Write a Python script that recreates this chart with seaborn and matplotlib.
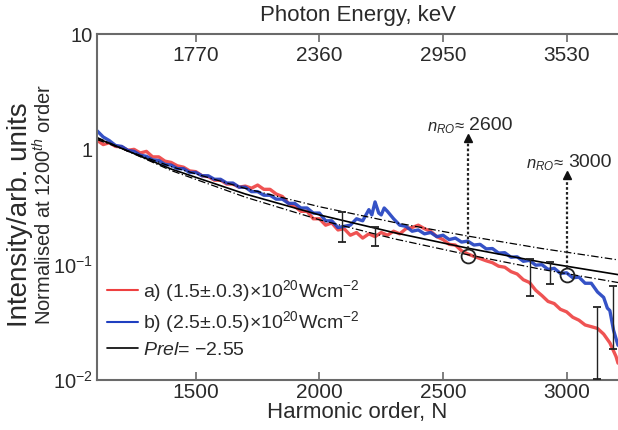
import numpy as np
import pandas as pd
import matplotlib
matplotlib.use("Agg")
import matplotlib.pyplot as plt
import seaborn as sns
from matplotlib.lines import Line2D

# ---------------- data ----------------
harm_a = [1100, 1125, 1150, 1175, 1200, 1225, 1250, 1275, 1300, 1325, 1350, 1375,
          1400, 1425, 1450, 1475, 1500, 1525, 1550, 1575, 1600, 1625, 1650, 1675,
          1700, 1725, 1750, 1775, 1800, 1825, 1850, 1875, 1900, 1925, 1950, 1975,
          2000, 2025, 2050, 2075, 2100, 2125, 2150, 2175, 2200, 2225, 2250, 2275,
          2300, 2325, 2350, 2375, 2400, 2425, 2450, 2475, 2500, 2525, 2550, 2575,
          2600, 2625, 2650, 2675, 2700, 2725, 2750, 2775, 2800, 2825, 2850, 2875,
          2900, 2925, 2950, 2975, 3000, 3025, 3050, 3075, 3100, 3125, 3150, 3175,
          3200, 3208]
int_a = [1.20, 1.10, 1.14, 1.06, 1.05, 0.98, 1.00, 0.93, 0.96, 0.86, 0.86, 0.79,
         0.77, 0.72, 0.70, 0.65, 0.64, 0.59, 0.58, 0.54, 0.54, 0.50, 0.50, 0.47,
         0.48, 0.46, 0.49, 0.45, 0.45, 0.41, 0.39, 0.34, 0.32, 0.29, 0.29, 0.25,
         0.25, 0.22, 0.23, 0.20, 0.205, 0.18, 0.19, 0.17, 0.185, 0.175, 0.19, 0.18,
         0.195, 0.185, 0.205, 0.21, 0.22, 0.205, 0.195, 0.175, 0.165, 0.15, 0.148, 0.132,
         0.124, 0.118, 0.113, 0.108, 0.104, 0.097, 0.095, 0.087, 0.083, 0.074, 0.070, 0.060,
         0.054, 0.048, 0.046, 0.041, 0.039, 0.035, 0.033, 0.030, 0.029, 0.028, 0.025, 0.021,
         0.016, 0.014]

harm_b = [1100, 1125, 1150, 1175, 1200, 1225, 1250, 1275, 1300, 1325, 1350, 1375,
          1400, 1425, 1450, 1475, 1500, 1525, 1550, 1575, 1600, 1625, 1650, 1675,
          1700, 1725, 1750, 1775, 1800, 1825, 1850, 1875, 1900, 1925, 1950, 1975,
          2000, 2025, 2050, 2075, 2100, 2125, 2150, 2175, 2200, 2212, 2225, 2240,
          2250, 2262, 2275, 2300, 2325, 2350, 2375, 2400, 2425, 2450, 2475, 2500,
          2525, 2550, 2575, 2600, 2625, 2650, 2675, 2700, 2725, 2750, 2775, 2800,
          2825, 2850, 2875, 2900, 2925, 2950, 2975, 3000, 3025, 3050, 3075, 3100,
          3125, 3150, 3165, 3175, 3190, 3208]
int_b = [1.45, 1.28, 1.19, 1.08, 1.06, 0.98, 0.96, 0.89, 0.87, 0.81, 0.80, 0.74,
         0.73, 0.68, 0.68, 0.63, 0.63, 0.59, 0.59, 0.55, 0.55, 0.51, 0.51, 0.47,
         0.47, 0.43, 0.43, 0.40, 0.40, 0.37, 0.37, 0.34, 0.34, 0.31, 0.31, 0.28,
         0.28, 0.24, 0.24, 0.21, 0.215, 0.22, 0.25, 0.24, 0.30, 0.27, 0.35, 0.28,
         0.27, 0.31, 0.29, 0.25, 0.22, 0.215, 0.195, 0.20, 0.185, 0.19, 0.175, 0.18,
         0.165, 0.17, 0.157, 0.16, 0.148, 0.15, 0.137, 0.138, 0.126, 0.127, 0.116, 0.117,
         0.107, 0.109, 0.099, 0.100, 0.091, 0.093, 0.084, 0.085, 0.077, 0.078, 0.069, 0.069,
         0.058, 0.052, 0.042, 0.040, 0.027, 0.020]

fit_n = [1100, 1400, 1700, 2000, 2300, 2600, 2900, 3208]
fit_main = [1.25, 0.675, 0.41, 0.27, 0.19, 0.139, 0.105, 0.082]
fit_upper = [1.215, 0.708, 0.458, 0.318, 0.233, 0.177, 0.138, 0.110]
fit_lower = [1.27, 0.655, 0.385, 0.245, 0.168, 0.122, 0.091, 0.070]

err_a_n = [2224, 2850, 3125]
err_a_mid = [0.18, 0.078, 0.024]
err_a_lo = [0.144, 0.053, 0.0103]
err_a_hi = [0.211, 0.111, 0.0426]

err_b_n = [2090, 2932, 3187]
err_b_mid = [0.21, 0.085, 0.035]
err_b_lo = [0.156, 0.0675, 0.0184]
err_b_hi = [0.284, 0.1047, 0.0648]

ro_n = [2600, 3000]
ro_val = [0.12, 0.082]
ro_tip = [1.25, 0.60]
ro_labels = ["2600", "3000"]

bottom_ticks = [1500, 2000, 2500, 3000]
top_tick_labels = ["1770", "2360", "2950", "3530"]
y_ticks = [10, 1, 0.1, 0.01]
y_tick_labels = ["10", "1", "10$^{-1}$", "10$^{-2}$"]

label_a = "a) (1.5±.0.3)×10$^{20}$Wcm$^{-2}$"
label_b = "b) (2.5±.0.5)×10$^{20}$Wcm$^{-2}$"
label_fit = "$Prel$= −2.55"

# ---------------- style ----------------
sns.set_theme(style="white")
plt.rcParams["font.family"] = ["Liberation Sans", "DejaVu Sans"]
plt.rcParams["mathtext.fontset"] = "custom"
plt.rcParams["mathtext.rm"] = "Liberation Sans"
plt.rcParams["mathtext.it"] = "Liberation Sans:italic"
plt.rcParams["mathtext.bf"] = "Liberation Sans:bold"

TXT = "#2a2a2a"
SPN = "#6a6a6a"
RED = "#ee4040"
BLUE = "#1f3fc0"

fig = plt.figure(figsize=(6.18, 4.30), dpi=100)
W, H = 618, 430
ax = fig.add_axes([97 / W, (H - 380) / H, 1 - 97 / W, 346 / H])

df_a = pd.DataFrame({"N": harm_a, "I": int_a})
df_b = pd.DataFrame({"N": harm_b, "I": int_b})

sns.lineplot(data=df_a, x="N", y="I", ax=ax, color=RED, lw=2.4, alpha=0.9, sort=False)
sns.lineplot(data=df_b, x="N", y="I", ax=ax, color=BLUE, lw=2.4, alpha=0.9, sort=False)

sns.lineplot(x=fit_n, y=fit_upper, ax=ax, color="black", lw=0.9, ls=(0, (6, 2, 1, 2)))
sns.lineplot(x=fit_n, y=fit_lower, ax=ax, color="black", lw=0.9, ls=(0, (6, 2, 1, 2)))
sns.lineplot(x=fit_n, y=fit_main, ax=ax, color="black", lw=1.2)

for n_, mid, lo, hi, cc in [(err_a_n, err_a_mid, err_a_lo, err_a_hi, RED),
                            (err_b_n, err_b_mid, err_b_lo, err_b_hi, BLUE)]:
    mid = np.array(mid); lo = np.array(lo); hi = np.array(hi)
    eb = ax.errorbar(n_, mid, yerr=[mid - lo, hi - mid], fmt="none", ecolor="#222222",
                     elinewidth=1.0, capsize=3, capthick=1.3, zorder=5)
    for cap in eb[1]:
        cap.set_color(cc)

# rollover circles + arrows
ax.plot(ro_n, ro_val, ls="none", marker="o", ms=10, mfc="none", mec="#222222", mew=1.3, zorder=6)
for n_, v, tip, lab in zip(ro_n, ro_val, ro_tip, ro_labels):
    ax.plot([n_, n_], [v * 1.14, tip], color="#222222", lw=1.6, ls=(0, (1.2, 1.0)), zorder=6)
    ax.plot([n_], [tip], marker="^", ms=6, color="#111111", zorder=7)
    ax.text(n_ + 5, tip * 1.08, lab, fontsize=14, color=TXT, ha="left", va="bottom")
    ax.text(n_ - 12, tip * 1.04, "$n_{RO}$≈", fontsize=12, color=TXT, ha="right", va="bottom")

# axes
ax.set_yscale("log")
ax.set_xlim(1100, 3208)
ax.set_ylim(0.01, 10)
ax.set_xticks(bottom_ticks)
ax.set_xticklabels([str(t) for t in bottom_ticks])
ax.set_yticks(y_ticks)
ax.set_yticklabels(y_tick_labels)
ax.yaxis.set_minor_locator(matplotlib.ticker.NullLocator())
ax.tick_params(axis="both", which="major", direction="in", length=6, width=1.2,
               color=SPN, labelcolor=TXT, labelsize=15)
ax.tick_params(axis="x", pad=2)
ax.tick_params(axis="y", pad=3, labelsize=14.5)
for s in ["left", "bottom", "top"]:
    ax.spines[s].set_color(SPN)
    ax.spines[s].set_linewidth(1.5)
ax.spines["right"].set_visible(False)
ax.set_xlabel("Harmonic order, N", fontsize=16, color=TXT, labelpad=0)
ax.set_ylabel("")

ax2 = ax.twiny()
ax2.set_xlim(ax.get_xlim())
ax2.set_xticks(bottom_ticks)
ax2.set_xticklabels(top_tick_labels)
ax2.tick_params(axis="x", direction="in", length=6, width=1.2, color=SPN,
                labelcolor=TXT, labelsize=15, pad=-22)
for s in ax2.spines.values():
    s.set_visible(False)
ax2.set_xlabel("Photon Energy, keV", fontsize=16, color=TXT, labelpad=9)

fig.text(20 / W, 1 - 215 / H, "Intensity/arb. units", rotation=90, fontsize=20,
         color=TXT, ha="center", va="center")
fig.text(44 / W, 1 - 204 / H, "Normalised at 1200$^{th}$ order", rotation=90, fontsize=14.5,
         color=TXT, ha="center", va="center")

handles = [Line2D([], [], color=RED, lw=1.5), Line2D([], [], color=BLUE, lw=1.5),
           Line2D([], [], color="black", lw=1.2)]
leg = ax.legend(handles, [label_a, label_b, label_fit], loc="upper left",
                bbox_to_anchor=(0.005, 0.318), frameon=False, fontsize=14,
                handlelength=1.6, handletextpad=0.25, labelspacing=0.3,
                borderaxespad=0.0)
for t in leg.get_texts():
    t.set_color(TXT)

fig.savefig("out.png", dpi=100)
